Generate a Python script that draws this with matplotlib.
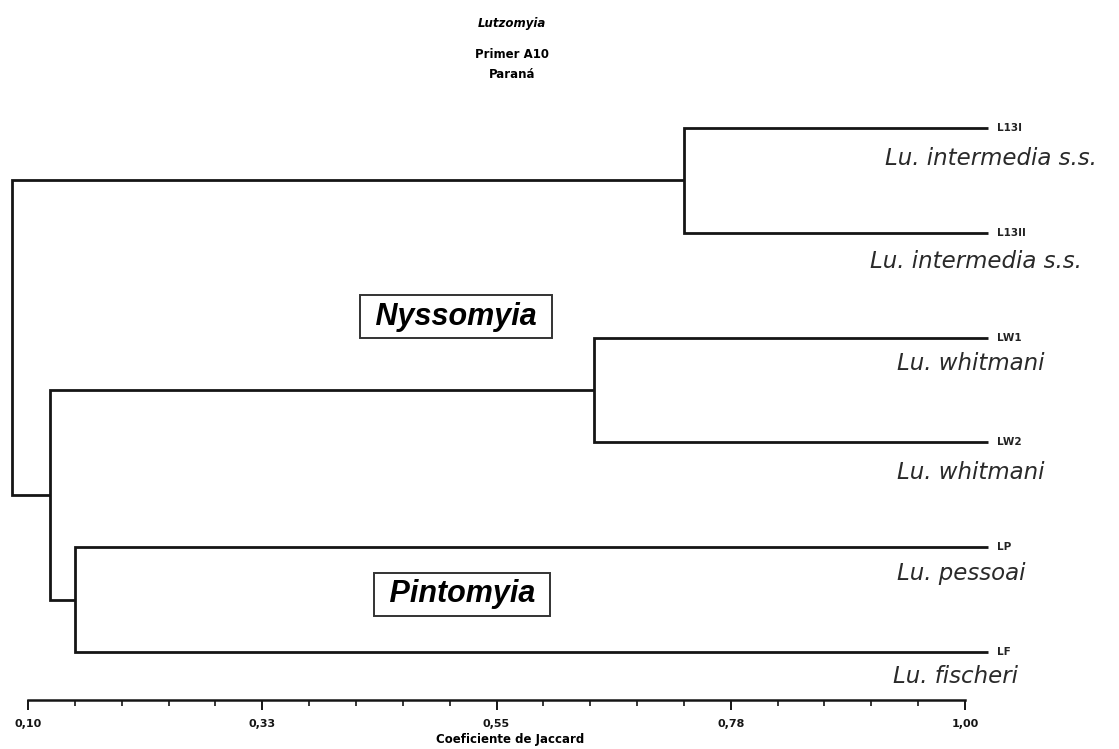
import matplotlib.pyplot as plt
from matplotlib.ticker import FixedLocator

plt.rcParams['font.family'] = ['Liberation Sans', 'DejaVu Sans']

# leaves, top to bottom
leaf_codes = ['L13I', 'L13II', 'LW1', 'LW2', 'LP', 'LF']
species = ['Lu. intermedia s.s.', 'Lu. intermedia s.s.', 'Lu. whitmani',
           'Lu. whitmani', 'Lu. pessoai', 'Lu. fischeri']
leaf_end = 1.022

# merges (cluster a, cluster b, Jaccard level); new clusters numbered 6, 7, ...
merges = [(0, 1, 0.730), (2, 3, 0.644), (4, 5, 0.145), (7, 8, 0.121), (6, 9, 0.085)]

tick_values = [0.10, 0.325, 0.55, 0.775, 1.00]
tick_labels = ['0,10', '0,33', '0,55', '0,78', '1,00']

W, H = 1119, 749
fig = plt.figure(figsize=(W / 100, H / 100), dpi=100)
ax = fig.add_axes([0, 0, 1, 1])

# pixel -> data mapping (0.10 at px 28, 1.00 at px 965; leaf rows 104.8 px apart from px 128)
xs = (965 - 28) / 0.9
ax.set_xlim(0.1 - 28 / xs, 0.1 + (W - 28) / xs)
ys = 104.8
ax.set_ylim((H - 128) / ys, -128 / ys)

small = dict(family='DejaVu Sans', fontweight='bold')

lc = '#151515'
lw = 2.0
pos = {i: (leaf_end, float(i)) for i in range(len(leaf_codes))}
for k, (a, b, h) in enumerate(merges):
    xa, ya = pos[a]
    xb, yb = pos[b]
    ax.plot([xa, h, h, xb], [ya, ya, yb, yb], color=lc, lw=lw,
            solid_joinstyle='miter', solid_capstyle='butt')
    pos[len(leaf_codes) + k] = (h, (ya + yb) / 2)

# leaf codes and species names
label_x = [0.923, 0.909, 0.935, 0.935, 0.935, 0.931]
label_dy = [0.29, 0.27, 0.25, 0.29, 0.25, 0.23]
for i, code in enumerate(leaf_codes):
    ax.text(leaf_end + 0.009, i, code, fontsize=7.5, va='center', ha='left',
            color='#222222', **small)
    ax.text(label_x[i], i + label_dy[i], species[i], fontsize=16.5,
            family='DejaVu Sans', style='italic', va='center', ha='left',
            color='#2a2a2a')

# genus boxes
box = dict(boxstyle='square,pad=0.22', fc='white', ec='#333333', lw=1.4)
ax.text(0.511, 1.80, ' Nyssomyia ', fontsize=22, fontweight='bold', style='italic',
        ha='center', va='center', bbox=box)
ax.text(0.517, 4.45, ' Pintomyia ', fontsize=22, fontweight='bold', style='italic',
        ha='center', va='center', bbox=box)

# scale axis
for s in ['top', 'left', 'right']:
    ax.spines[s].set_visible(False)
ax.spines['bottom'].set_position(('data', (700 - 128) / ys))
ax.spines['bottom'].set_bounds(0.1, 1.0)
ax.spines['bottom'].set_linewidth(1.8)
ax.spines['bottom'].set_color(lc)
ax.set_yticks([])
ax.xaxis.set_major_locator(FixedLocator(tick_values))
ax.set_xticklabels(tick_labels, fontsize=8, **small)
minor = []
for t0, t1 in zip(tick_values[:-1], tick_values[1:]):
    minor += [t0 + (t1 - t0) * j / 5 for j in range(1, 5)]
ax.xaxis.set_minor_locator(FixedLocator(minor))
ax.tick_params(axis='x', which='major', direction='out', length=7, width=1.4,
               pad=7, colors=lc)
ax.tick_params(axis='x', which='minor', direction='out', length=4, width=1.2, colors=lc)

fig.text(510 / W, 1 - 740 / H, 'Coeficiente de Jaccard', fontsize=8.5,
         ha='center', va='center', **small)

# title block
fig.text(512 / W, 1 - 24 / H, 'Lutzomyia', fontsize=8.5, style='italic',
         ha='center', va='center', **small)
fig.text(512 / W, 1 - 55 / H, 'Primer A10', fontsize=8.5,
         ha='center', va='center', **small)
fig.text(512 / W, 1 - 74 / H, 'Paraná', fontsize=8.5,
         ha='center', va='center', **small)

fig.savefig('out.png', dpi=100)
